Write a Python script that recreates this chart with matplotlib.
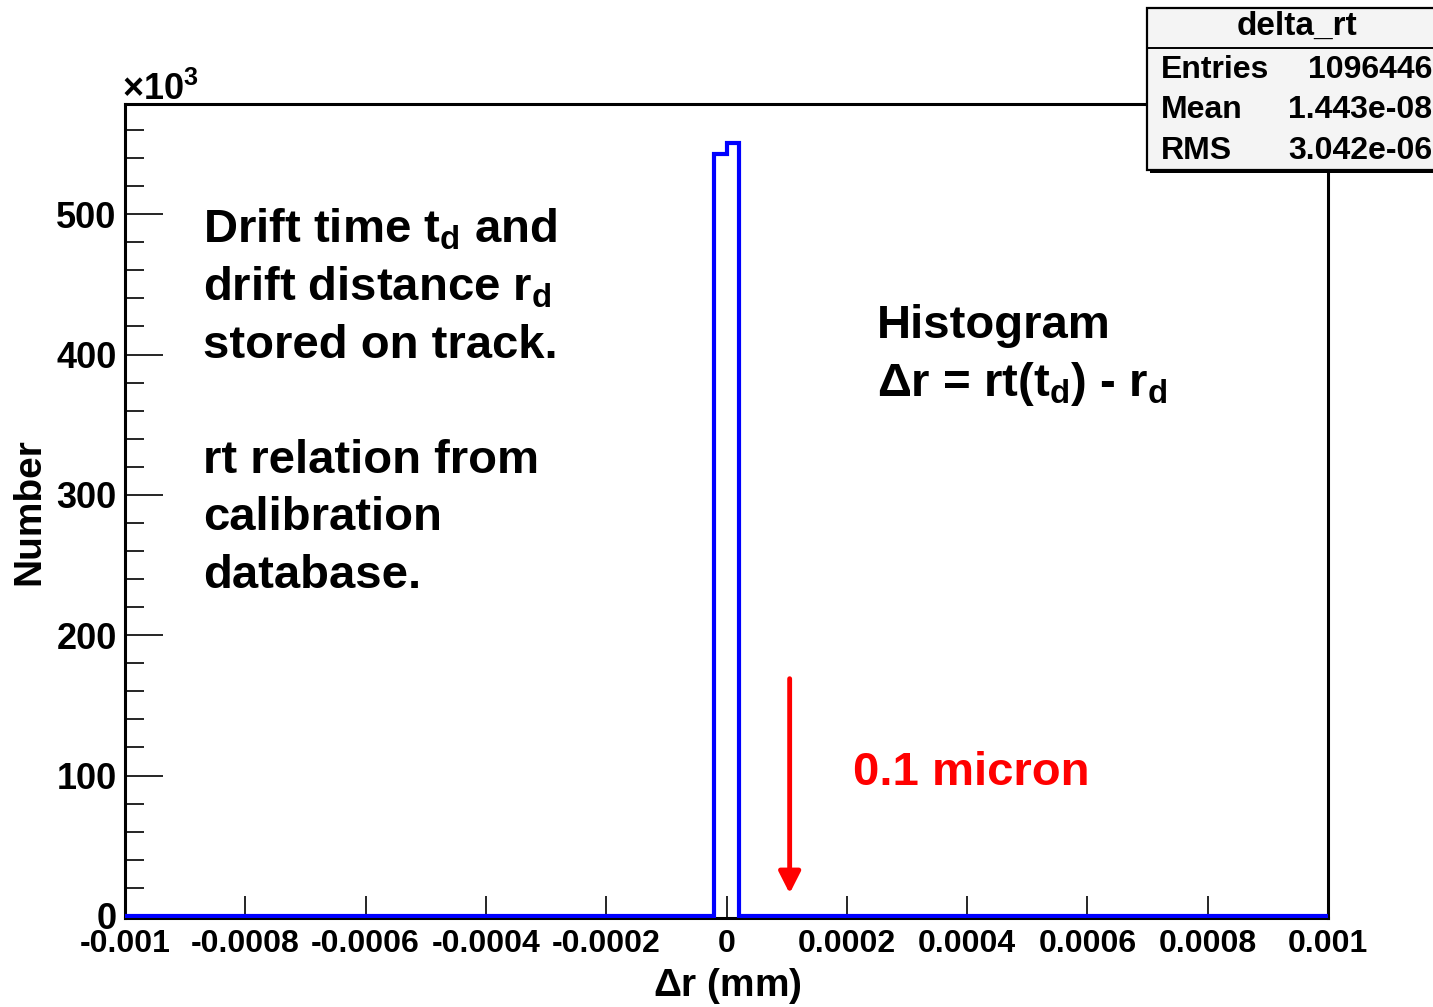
import numpy as np
import matplotlib
matplotlib.use("Agg")
import matplotlib.pyplot as plt
from matplotlib.patches import Rectangle
from matplotlib.lines import Line2D
from matplotlib.ticker import MultipleLocator, FixedLocator

plt.rcParams['font.family'] = ['Liberation Sans', 'DejaVu Sans']
plt.rcParams['font.weight'] = 'bold'
plt.rcParams['mathtext.default'] = 'regular'

# ---------------- data ----------------
x_min, x_max = -0.001, 0.001
n_bins = 100
nonzero_bin_lo_edges = [-0.00002, 0.0]          # lower edges of filled bins (mm)
nonzero_bin_counts = [543000, 551000]           # counts in those bins
x_tick_values = [-0.001, -0.0008, -0.0006, -0.0004, -0.0002, 0, 0.0002, 0.0004, 0.0006, 0.0008, 0.001]
x_tick_labels = ['-0.001', '-0.0008', '-0.0006', '-0.0004', '-0.0002', '0', '0.0002', '0.0004', '0.0006', '0.0008', '0.001']
y_tick_values = [0, 100000, 200000, 300000, 400000, 500000]
y_tick_labels = ['0', '100', '200', '300', '400', '500']
stats_names = ['Entries', 'Mean', 'RMS']
stats_values = ['1096446', '1.443e-08', '3.042e-06']
arrow_x = 0.000105
arrow_y_from, arrow_y_to = 169000, 16000

edges = np.linspace(x_min, x_max, n_bins + 1)
counts = np.zeros(n_bins)
for lo, c in zip(nonzero_bin_lo_edges, nonzero_bin_counts):
    counts[int(round((lo - x_min) / (edges[1] - edges[0])))] = c

# ---------------- figure ----------------
W, H = 1433, 1007
fig = plt.figure(figsize=(W / 100, H / 100), dpi=100)
fig.patch.set_facecolor('white')

def fx(px):
    return px / W

def fy(py):
    return 1 - py / H

AX_L, AX_R, AX_T, AX_B = 125, 1328, 104, 918
ax = fig.add_axes([fx(AX_L), fy(AX_B), fx(AX_R) - fx(AX_L), fy(AX_T) - fy(AX_B)])
ax.stairs(counts, edges, baseline=0, color='#0000ff', lw=3.0, zorder=3)

ax.set_xlim(x_min, x_max)
ax.set_ylim(-1500, 578500)
for s in ax.spines.values():
    s.set_linewidth(2.2)
    s.set_zorder(2)

ax.xaxis.set_major_locator(FixedLocator(x_tick_values))
ax.set_xticklabels(x_tick_labels)
ax.yaxis.set_major_locator(FixedLocator(y_tick_values))
ax.set_yticklabels(y_tick_labels)
ax.yaxis.set_minor_locator(MultipleLocator(20000))
ax.tick_params(axis='x', which='major', direction='in', length=16, width=1.2,
               labelsize=23, pad=8, top=False)
ax.tick_params(axis='y', which='major', direction='in', length=27, width=1.2,
               labelsize=26, pad=6, right=False)
ax.tick_params(axis='y', which='minor', direction='in', length=14, width=1.2, right=False)
for lab in ax.get_xticklabels() + ax.get_yticklabels():
    lab.set_fontweight('bold')

ax.set_xlabel(r'$\Delta$r (mm)', fontsize=28, fontweight='bold')
ax.set_ylabel('Number', fontsize=28, fontweight='bold')
ax.xaxis.set_label_coords((727 - AX_L) / (AX_R - AX_L), -(966 - AX_B) / (AX_B - AX_T))
ax.yaxis.set_label_coords(-(AX_L - 47) / (AX_R - AX_L), (AX_B - 512) / (AX_B - AX_T))

fig.text(fx(122), fy(100), r'$\times$10$^{3}$', fontsize=26, fontweight='bold',
         ha='left', va='baseline')

# red arrow and label
ax.annotate('', xy=(arrow_x, arrow_y_to), xytext=(arrow_x, arrow_y_from),
            arrowprops=dict(arrowstyle='-|>,head_length=0.65,head_width=0.33',
                            color='#ff0000', lw=3.5, mutation_scale=20,
                            shrinkA=0, shrinkB=0), zorder=4)
fig.text(fx(853), fy(785), '0.1 micron', color='#ff0000', fontsize=34,
         fontweight='bold', ha='left', va='baseline')

# left annotation
left_lines = ['Drift time t$_d$ and', 'drift distance r$_d$', 'stored on track.',
              '', 'rt relation from', 'calibration', 'database.']
base = 243
for i, line in enumerate(left_lines):
    if line:
        fig.text(fx(203), fy(base + i * 57.5), line, fontsize=34,
                 fontweight='bold', ha='left', va='baseline')

fig.text(fx(877), fy(338), 'Histogram', fontsize=34, fontweight='bold',
         ha='left', va='baseline')
fig.text(fx(877), fy(396), r'$\Delta$r = rt(t$_d$) - r$_d$', fontsize=34,
         fontweight='bold', ha='left', va='baseline')

# stats box
bx0, by0, bx1, by1 = 1147, 8, 1445, 170
shadow = Rectangle((fx(bx0 + 3), fy(by1 + 3)), fx(bx1 - bx0), fy(by0) - fy(by1),
                   transform=fig.transFigure, facecolor='black', edgecolor='black',
                   lw=0, zorder=10)
box = Rectangle((fx(bx0), fy(by1)), fx(bx1 - bx0), fy(by0) - fy(by1),
                transform=fig.transFigure, facecolor='#f4f4f4', edgecolor='black',
                lw=1.6, zorder=11)
fig.patches.extend([shadow, box])
fig.lines.append(Line2D([fx(bx0), fx(bx1)], [fy(48), fy(48)], transform=fig.transFigure,
                        color='black', lw=1.4, zorder=12))
fig.text(fx(1297), fy(26), 'delta_rt', fontsize=24, fontweight='bold',
         ha='center', va='center', zorder=13)
row_y = [70, 110, 151]
for name, val, ry in zip(stats_names, stats_values, row_y):
    fig.text(fx(1161), fy(ry), name, fontsize=23, fontweight='bold',
             ha='left', va='center', zorder=13)
    fig.text(fx(1432), fy(ry), val, fontsize=23, fontweight='bold',
             ha='right', va='center', zorder=13)

fig.savefig('out.png', dpi=100, facecolor='white')
